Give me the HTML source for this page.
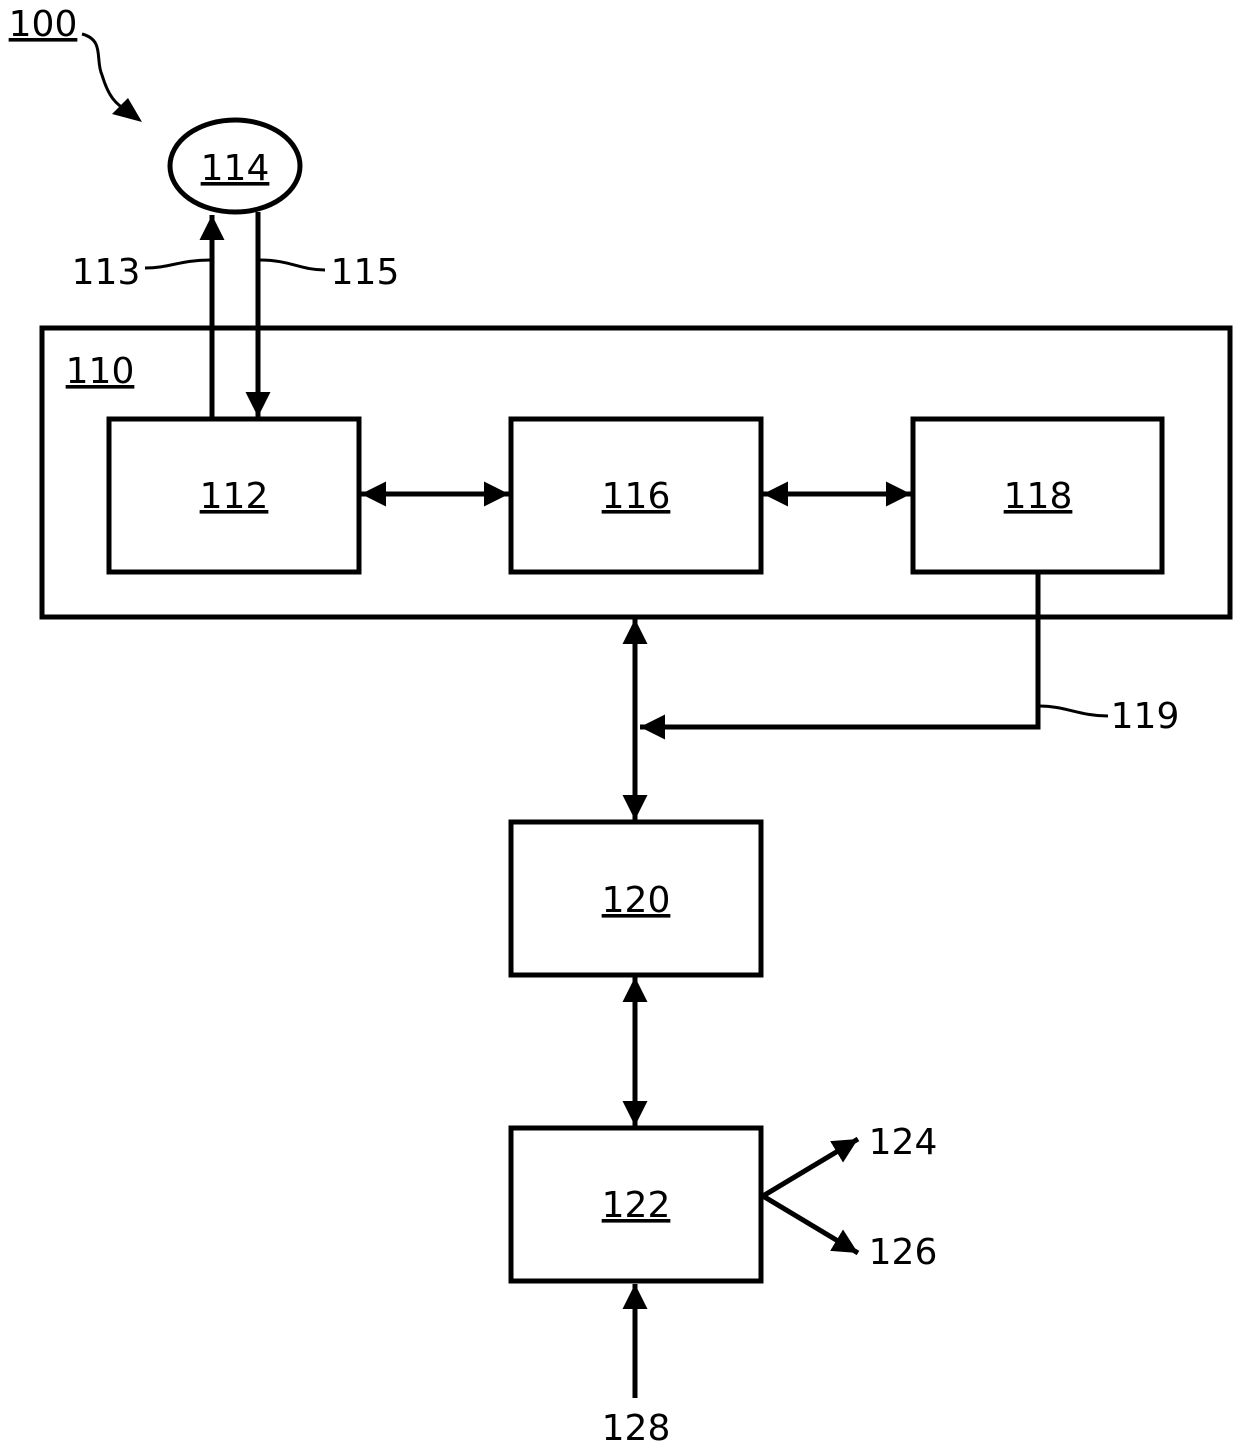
<!DOCTYPE html>
<html><head><meta charset="utf-8"><style>
html,body{margin:0;padding:0;background:#fff}
svg{display:block}
text{font-family:"DejaVu Sans","Liberation Sans",sans-serif;font-size:36px;fill:#000}
</style></head><body>
<svg width="1240" height="1449" viewBox="0 0 1240 1449" xmlns="http://www.w3.org/2000/svg">
<defs>
<marker id="a" viewBox="0 0 10 10" refX="10" refY="5" markerWidth="5" markerHeight="5" orient="auto-start-reverse" markerUnits="strokeWidth">
<path d="M0,0 L10,5 L0,10 z" fill="#000"/></marker>
</defs>
<g fill="none" stroke="#000" stroke-width="5">
<rect x="42" y="328" width="1188" height="289"/>
<rect x="109" y="419" width="250" height="153"/>
<rect x="511" y="419" width="250" height="153"/>
<rect x="913" y="419" width="249" height="153"/>
<rect x="511" y="822" width="250" height="153"/>
<rect x="511" y="1128" width="250" height="153"/>
<ellipse cx="235" cy="166" rx="65" ry="46"/>
<line x1="212" y1="419" x2="212" y2="215" marker-end="url(#a)"/>
<line x1="258" y1="212" x2="258" y2="417" marker-end="url(#a)"/>
<line x1="361" y1="494" x2="509" y2="494" marker-start="url(#a)" marker-end="url(#a)"/>
<line x1="763" y1="494" x2="911" y2="494" marker-start="url(#a)" marker-end="url(#a)"/>
<line x1="635" y1="619" x2="635" y2="820" marker-start="url(#a)" marker-end="url(#a)"/>
<polyline points="1038,572 1038,727 640,727" marker-end="url(#a)"/>
<line x1="635" y1="977" x2="635" y2="1126" marker-start="url(#a)" marker-end="url(#a)"/>
<line x1="635" y1="1398" x2="635" y2="1284" marker-end="url(#a)"/>
<line x1="763" y1="1196" x2="858" y2="1139" marker-end="url(#a)"/>
<line x1="763" y1="1196" x2="858" y2="1253" marker-end="url(#a)"/>
</g>
<g fill="none" stroke="#000" stroke-width="3">
<path d="M145,268 C170,268 180,260 210,260"/>
<path d="M260,260 C290,260 300,270 325,270"/>
<path d="M1040,706 C1065,706 1080,716 1108,716"/>
<path d="M82,34 C105,40 95,60 102,75 C108,95 115,105 130,112"/>
</g>
<path d="M142,122 L112,114 L128,98 z" fill="#000"/>
<g text-anchor="middle">
<text x="235" y="180" text-decoration="underline">114</text>
<text x="234" y="508" text-decoration="underline">112</text>
<text x="636" y="508" text-decoration="underline">116</text>
<text x="1038" y="508" text-decoration="underline">118</text>
<text x="636" y="912" text-decoration="underline">120</text>
<text x="636" y="1217" text-decoration="underline">122</text>
<text x="100" y="383" text-decoration="underline">110</text>
<text x="43" y="36" text-decoration="underline">100</text>
<text x="106" y="284">113</text>
<text x="365" y="284">115</text>
<text x="1145" y="728">119</text>
<text x="903" y="1154">124</text>
<text x="903" y="1264">126</text>
<text x="636" y="1440">128</text>
</g>
</svg>
</body></html>
